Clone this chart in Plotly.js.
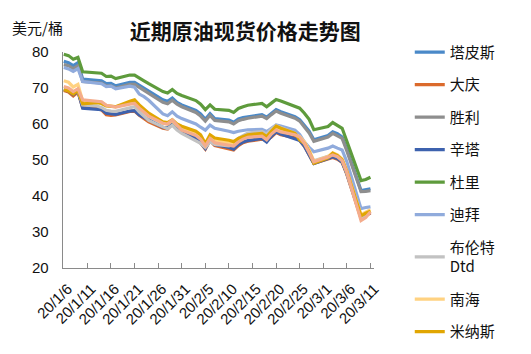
<!DOCTYPE html>
<html><head><meta charset="utf-8">
<script src="https://cdn.plot.ly/plotly-3.0.1.min.js"></script>
<style>html,body{margin:0;padding:0;background:#fff}#c{width:531px;height:354px}</style>
</head><body><div id="c"></div>
<script>
const dates = [
 "2020-01-06","2020-01-07","2020-01-08","2020-01-09","2020-01-10",
 "2020-01-13","2020-01-14","2020-01-15","2020-01-16","2020-01-17",
 "2020-01-20","2020-01-21","2020-01-22","2020-01-23","2020-01-24",
 "2020-01-27","2020-01-28","2020-01-29","2020-01-30","2020-01-31",
 "2020-02-03","2020-02-04","2020-02-05","2020-02-06","2020-02-07",
 "2020-02-10","2020-02-11","2020-02-12","2020-02-13","2020-02-14",
 "2020-02-17","2020-02-18","2020-02-19","2020-02-20","2020-02-21",
 "2020-02-24","2020-02-25","2020-02-26","2020-02-27","2020-02-28",
 "2020-03-02","2020-03-03","2020-03-04","2020-03-05","2020-03-06",
 "2020-03-09","2020-03-10","2020-03-11"];

const tapis = [77.4,77.0,76.2,77.0,72.5, 72.2,72.0,71.2,71.3,70.6, 71.6,71.6,70.8,69.8,69.0, 66.7,66.3,67.2,66.0,65.3,
 63.8,62.8,61.3,62.9,61.5, 61.1,60.5,61.4,61.8,62.0, 62.6,61.9,63.0,64.0,63.4, 62.0,61.2,59.5,58.0,55.6,
 56.8,57.8,57.3,56.4,53.0, 41.5,41.8,42.0];
const daqing = [69.3,68.9,67.8,68.9,64.6, 64.3,63.9,62.6,62.4,62.5, 63.5,63.6,62.4,61.5,60.6, 58.8,58.6,60.0,58.8,57.8,
 55.8,54.7,53.0,55.4,54.0, 53.0,52.8,54.0,54.8,55.2, 55.8,55.5,56.4,57.6,57.0, 56.2,55.5,53.8,51.4,49.1,
 50.3,50.7,50.2,49.3,46.0, 33.8,34.5,35.3];
const shengli = [76.5,76.2,75.4,76.2,71.8, 71.6,71.4,70.6,70.6,70.0, 71.0,71.0,70.2,69.2,68.4, 66.0,65.6,66.6,65.5,64.8,
 63.2,62.2,60.8,62.4,61.0, 60.6,60.0,60.9,61.3,61.6, 62.2,61.5,62.6,63.6,63.0, 61.6,60.8,59.0,57.5,55.2,
 56.4,57.4,56.8,56.0,52.5, 41.2,41.3,41.5];
const cinta = [69.6,69.2,68.2,69.2,64.4, 64.2,64.0,63.0,62.9,62.7, 63.6,63.7,62.5,61.8,61.0, 59.1,58.9,60.3,59.0,58.0,
 56.0,54.8,53.2,55.6,54.3, 53.5,53.0,54.3,55.0,55.4, 56.0,55.0,56.6,57.8,57.2, 56.0,55.4,53.8,51.3,49.0,
 50.4,50.9,50.4,49.4,46.2, 34.2,34.8,35.4];
const duri = [79.4,79.0,78.0,78.5,74.5, 74.2,74.1,73.2,73.3,72.6, 73.6,73.6,72.9,72.0,71.2, 69.0,68.6,69.6,68.5,67.9,
 66.5,65.5,64.0,65.3,64.1, 63.8,63.2,64.3,64.8,65.2, 65.7,64.8,65.8,66.8,66.4, 64.9,64.4,63.0,61.3,58.4,
 59.3,60.4,59.6,58.8,55.2, 44.3,44.6,45.2];
const dubai = [75.7,75.3,74.6,75.4,71.8, 71.4,71.2,70.4,70.5,69.8, 70.5,70.2,68.3,67.6,66.6, 62.8,62.3,63.4,62.2,61.5,
 60.0,59.1,58.3,59.7,58.8, 58.0,57.6,58.0,58.3,58.4, 58.5,57.9,58.8,59.7,59.4, 58.3,57.1,55.0,53.5,52.3,
 53.3,53.9,53.3,52.8,49.5, 36.5,36.8,37.0];
const brent = [69.8,69.4,68.6,69.4,65.3, 65.0,64.6,63.8,63.6,63.5, 64.5,64.8,63.4,62.2,61.0, 59.2,58.7,59.6,58.3,57.4,
 55.4,54.6,53.5,55.1,54.3, 53.9,54.8,56.0,56.8,57.5, 57.9,57.2,58.6,59.6,59.0, 57.5,55.8,55.0,52.4,49.8,
 51.0,51.6,51.0,50.0,46.3, 34.0,34.9,35.6];
const nanhai = [72.0,71.6,70.3,71.0,66.4, 66.2,66.0,65.2,65.0,64.8, 65.8,65.9,64.8,63.6,62.5, 60.2,60.0,60.9,59.6,58.9,
 57.4,56.2,54.2,56.5,55.3, 54.8,54.4,55.5,56.2,56.6, 57.2,56.4,57.9,59.2,58.6, 57.2,56.5,55.0,52.8,49.6,
 51.0,52.0,51.4,50.3,46.9, 34.8,35.4,36.2];
const minas = [69.5,69.2,68.3,69.3,65.6, 65.9,65.7,65.0,64.9,64.8, 66.3,66.7,65.3,64.2,63.0, 60.6,60.4,61.2,60.0,59.4,
 58.0,57.0,54.6,57.0,56.1, 55.5,55.1,56.0,56.6,57.0, 57.4,56.5,58.0,59.4,58.8, 57.4,55.6,54.6,52.3,49.1,
 50.6,51.9,51.2,50.0,46.8, 34.5,35.2,35.8];
const extra = [70.4,70.0,69.0,69.8,66.7, 66.4,66.2,65.2,65.0,64.7, 65.5,65.7,64.4,63.2,62.2, 60.2,60.0,61.1,59.6,58.3,
 56.8,55.8,53.9,56.0,54.8, 54.2,53.9,55.0,55.8,56.3, 56.6,55.6,57.2,58.3,57.8, 57.0,56.4,54.6,52.0,49.5,
 50.8,51.4,50.9,49.8,46.6, 33.2,34.0,35.6];

const names = ["塔皮斯","大庆","胜利","辛塔","杜里","迪拜","布伦特<br>Dtd","南海","米纳斯"];
const series = [tapis,daqing,shengli,cinta,duri,dubai,brent,nanhai,minas];
const colors = ["#4A89C8","#DB6A2C","#8E8E8E","#3D62AE","#5E9B3C","#90ABDC","#C2C2C2","#FFD281","#E1A602"];

const traces = series.map((s,i)=>({
  x: dates, y: s, type:"scatter", mode:"lines", name: names[i],
  legendgroup: "g"+i,
  line:{color:colors[i], width:3.2}
}));
traces.push({x:dates, y:extra, type:"scatter", mode:"lines", name:"其他", showlegend:false,
  line:{color:"#F4AC8C", width:3.2}});

const font = "Liberation Sans, Arial, Noto Sans CJK SC, sans-serif";
const layout = {
  width:531, height:354,
  margin:{l:63, r:157, t:52, b:86},
  paper_bgcolor:"#fff", plot_bgcolor:"#fff",
  font:{family:font, color:"#111", size:14},
  title:{text:"<b>近期原油现货价格走势图</b>", x:0.462, xref:"container", xanchor:"center",
    y:0.912, yref:"container", yanchor:"middle",
    font:{family:"Noto Sans CJK SC, sans-serif", size:21, color:"#111"}},
  xaxis:{type:"date", range:["2020-01-05 20:00","2020-03-11 18:00"],
    tick0:"2020-01-06", dtick:5*86400000, tickformat:"%y/%-m/%-d", tickangle:-45,
    showgrid:false, zeroline:false, showline:true, linecolor:"#8a8a8a", linewidth:1.3,
    ticks:"inside", ticklen:5, tickcolor:"#8a8a8a", ticklabelstandoff:5, ticklabelshift:4,
    tickfont:{size:15, color:"#111"}},
  yaxis:{range:[20,80], dtick:10, showgrid:false, zeroline:false, showline:true,
    linecolor:"#8a8a8a", linewidth:1.3, ticks:"", ticklabelstandoff:10, tickfont:{size:15, color:"#111"}},
  legend:{x:1.115, xanchor:"left", y:1.075, yanchor:"top", bgcolor:"rgba(0,0,0,0)",
    font:{family:"Noto Sans CJK SC, sans-serif", size:15, color:"#111"},
    tracegroupgap:10, itemwidth:30, maxheight:340},
  annotations:[
    {text:"美元/桶", xref:"paper", yref:"paper", x:-0.17, y:1.055, xanchor:"left", yanchor:"bottom",
     showarrow:false, font:{family:"Noto Sans CJK SC, sans-serif", size:15, color:"#111"}},
    {text:"<b>金联创</b>", xref:"paper", yref:"container", x:1.37, y:0.955, xanchor:"left", yanchor:"middle",
     showarrow:false, font:{family:"Noto Sans CJK SC, sans-serif", size:11, color:"#777"}},
    {text:"www.315i.com", xref:"paper", yref:"container", x:1.37, y:0.925, xanchor:"left", yanchor:"middle",
     showarrow:false, font:{size:5, color:"#999"}}
  ],
  shapes:[
    {type:"circle", xref:"paper", yref:"container", x0:1.325, x1:1.345, y0:0.925, y1:0.965, fillcolor:"#2D5BA8", line:{width:0}},
    {type:"circle", xref:"paper", yref:"container", x0:1.343, x1:1.358, y0:0.945, y1:0.975, fillcolor:"#F2B72E", line:{width:0}},
    {type:"circle", xref:"paper", yref:"container", x0:1.345, x1:1.365, y0:0.915, y1:0.945, fillcolor:"#D9342B", line:{width:0}}
  ],
  showlegend:true
};
Plotly.newPlot("c", traces, layout, {displayModeBar:false, staticPlot:true});
</script></body></html>
